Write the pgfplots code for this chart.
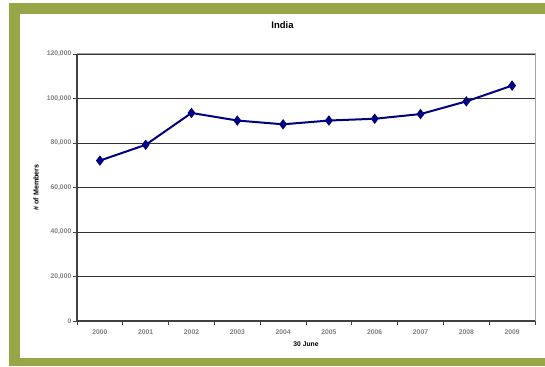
\documentclass[border=0pt]{standalone}
\usepackage{fontspec}
\setmainfont{Liberation Sans}
\usepackage{pgfplots}
\pgfplotsset{compat=1.18}
\definecolor{frame}{RGB}{152,166,72}
\definecolor{navy}{RGB}{0,0,128}
\begin{document}
\begin{tikzpicture}[x=1bp,y=1bp]
\useasboundingbox (0,0) rectangle (545,366);
\fill[white] (0,0) rectangle (545,366);
\fill[frame] (9,0) rectangle (545,363);
\fill[white] (20,8) rectangle (545,352);
\node[font=\fontsize{9.5}{11}\selectfont\bfseries] at (282.5,340.5) {India};
\begin{axis}[
  at={(77bp,45bp)}, anchor=south west,
  scale only axis, width=458bp, height=267bp,
  xmin=-0.5, xmax=9.5, ymin=0, ymax=120000,
  axis lines*=left,
  axis line style={draw=black!75, line width=1.2bp},
  xtick={0,...,9},
  xticklabels={2000,2001,2002,2003,2004,2005,2006,2007,2008,2009},
  minor xtick={-0.5,0.5,...,9.5},
  major x tick style={draw=none},
  minor x tick style={draw=black!75, line width=0.8bp},
  minor tick length=4bp,
  ytick={0,20000,40000,60000,80000,100000,120000},
  yticklabels={0,{20,000},{40,000},{60,000},{80,000},{100,000},{120,000}},
  major tick length=4bp,
  y tick style={draw=black!75, line width=0.8bp},
  tick align=outside,
  ymajorgrids,
  grid style={draw=black!80, line width=0.7bp},
  scaled y ticks=false,
  tick label style={font=\fontsize{6.8}{7}\selectfont\bfseries, text=black!50},
  yticklabel style={inner sep=1.5bp},
  xticklabel style={yshift=-1bp},
  xlabel={30 June},
  ylabel={\# of Members},
  xlabel style={font=\fontsize{6.8}{7}\selectfont\bfseries, yshift=-1bp},
  ylabel style={font=\fontsize{7.2}{8}\selectfont\bfseries, yshift=3bp},
  clip=false,
]
\draw[black!35, line width=1bp] (rel axis cs:0,1) -- (rel axis cs:1,1) -- (rel axis cs:1,0);
\addplot[navy, line width=2bp, mark=diamond*, mark size=3.6bp, mark options={solid, fill=navy}]
coordinates {
(0,72100) (1,79200) (2,93500) (3,90100) (4,88400)
(5,90100) (6,90900) (7,93000) (8,98700) (9,105800)
};
\end{axis}
\end{tikzpicture}
\end{document}
